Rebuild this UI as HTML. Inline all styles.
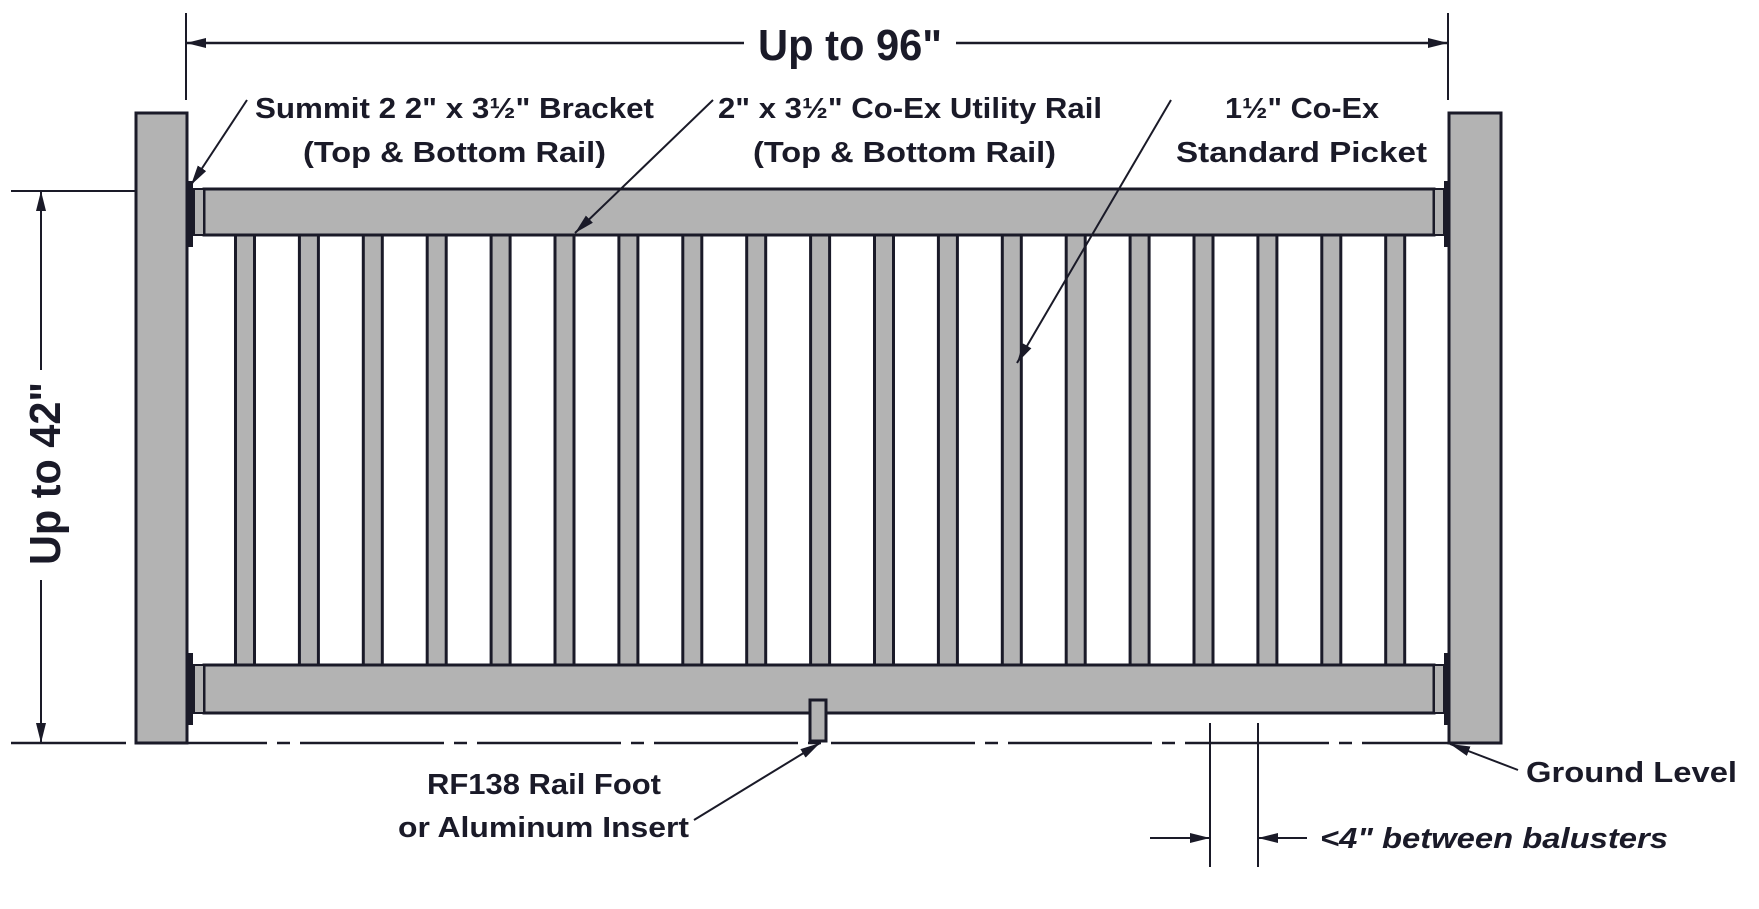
<!DOCTYPE html>
<html><head><meta charset="utf-8"><style>
html,body{margin:0;padding:0;background:#fff;}
svg{display:block;}
text{font-family:"Liberation Sans",sans-serif;font-weight:bold;fill:#1a1a28;}
</style></head><body>
<svg width="1759" height="909" viewBox="0 0 1759 909" xmlns="http://www.w3.org/2000/svg">
<defs>
<marker id="ah" markerWidth="20" markerHeight="10" refX="20" refY="5" orient="auto" markerUnits="userSpaceOnUse">
<path d="M0,0 L20,5 L0,10 z" fill="#1a1a28"/></marker>
</defs>
<g stroke="#1a1a28" fill="none">
<!-- top dimension -->
<line x1="186" y1="13" x2="186" y2="100" stroke-width="2"/>
<line x1="1448" y1="13" x2="1448" y2="100" stroke-width="2"/>
<line x1="744" y1="43" x2="186" y2="43" stroke-width="2.5" marker-end="url(#ah)"/>
<line x1="956" y1="43" x2="1448" y2="43" stroke-width="2.5" marker-end="url(#ah)"/>
<!-- left dimension -->
<line x1="11" y1="191" x2="177" y2="191" stroke-width="2"/>
<line x1="11" y1="743" x2="126" y2="743" stroke-width="2.5"/>
<line x1="41" y1="370" x2="41" y2="191" stroke-width="2" marker-end="url(#ah)"/>
<line x1="41" y1="580" x2="41" y2="743" stroke-width="2" marker-end="url(#ah)"/>
<!-- ground -->
<line x1="188" y1="743" x2="1448" y2="743" stroke-width="2.5" stroke-dasharray="144 10 13 10" stroke-dashoffset="65"/>
</g>
<!-- posts -->
<g fill="#b3b3b3" stroke="#1a1a28" stroke-width="3">
<rect x="136" y="113" width="51" height="630"/>
<rect x="1449" y="113" width="52" height="630"/>
<!-- pickets -->
<g id="pk">
<rect x="235.5" y="235" width="19" height="430"/><rect x="299.4" y="235" width="19" height="430"/><rect x="363.3" y="235" width="19" height="430"/><rect x="427.2" y="235" width="19" height="430"/><rect x="491.1" y="235" width="19" height="430"/><rect x="555" y="235" width="19" height="430"/><rect x="618.9" y="235" width="19" height="430"/><rect x="682.8" y="235" width="19" height="430"/><rect x="746.7" y="235" width="19" height="430"/><rect x="810.6" y="235" width="19" height="430"/><rect x="874.5" y="235" width="19" height="430"/><rect x="938.4" y="235" width="19" height="430"/><rect x="1002.3" y="235" width="19" height="430"/><rect x="1066.2" y="235" width="19" height="430"/><rect x="1130.1" y="235" width="19" height="430"/><rect x="1194" y="235" width="19" height="430"/><rect x="1257.9" y="235" width="19" height="430"/><rect x="1321.8" y="235" width="19" height="430"/><rect x="1385.7" y="235" width="19" height="430"/>
</g>
<!-- rails -->
<rect x="204" y="189" width="1230" height="46"/>
<rect x="204" y="665" width="1230" height="48"/>
<!-- brackets -->
<rect x="194" y="189" width="10" height="46" stroke-width="2"/>
<rect x="1434" y="189" width="10" height="46" stroke-width="2"/>
<rect x="194" y="665" width="10" height="48" stroke-width="2"/>
<rect x="1434" y="665" width="10" height="48" stroke-width="2"/>
<!-- rail foot -->
<rect x="810" y="700" width="16" height="41"/>
</g>
<g fill="#1a1a28">
<rect x="188" y="181" width="5" height="66"/>
<rect x="1444" y="181" width="5" height="66"/>
<rect x="188" y="653" width="5" height="72"/>
<rect x="1444" y="653" width="5" height="72"/>
</g>
<!-- leader arrows -->
<g stroke="#1a1a28" stroke-width="2" fill="none">
<line x1="247" y1="100" x2="191" y2="185" marker-end="url(#ah)"/>
<line x1="713" y1="100" x2="575" y2="233" marker-end="url(#ah)"/>
<line x1="1171" y1="100" x2="1017" y2="363" marker-end="url(#ah)"/>
<line x1="694" y1="820" x2="820" y2="743" marker-end="url(#ah)"/>
<line x1="1518" y1="770" x2="1450" y2="744" marker-end="url(#ah)"/>
<line x1="1210" y1="723" x2="1210" y2="867"/>
<line x1="1258" y1="723" x2="1258" y2="867"/>
<line x1="1150" y1="838" x2="1210" y2="838" marker-end="url(#ah)"/>
<line x1="1307" y1="838" x2="1258" y2="838" marker-end="url(#ah)"/>
</g>
<!-- text -->
<text x="758" y="60" font-size="44" textLength="184" lengthAdjust="spacingAndGlyphs">Up to 96"</text>
<text transform="translate(60,565) rotate(-90)" font-size="44" textLength="183" lengthAdjust="spacingAndGlyphs">Up to 42"</text>
<text x="255" y="118" font-size="29" textLength="399" lengthAdjust="spacingAndGlyphs">Summit 2 2" x 3½" Bracket</text>
<text x="303" y="162" font-size="29" textLength="303" lengthAdjust="spacingAndGlyphs">(Top &amp; Bottom Rail)</text>
<text x="718" y="118" font-size="29" textLength="384" lengthAdjust="spacingAndGlyphs">2" x 3½" Co-Ex Utility Rail</text>
<text x="753" y="162" font-size="29" textLength="303" lengthAdjust="spacingAndGlyphs">(Top &amp; Bottom Rail)</text>
<text x="1225" y="118" font-size="29" textLength="154" lengthAdjust="spacingAndGlyphs">1½" Co-Ex</text>
<text x="1176" y="162" font-size="29" textLength="251" lengthAdjust="spacingAndGlyphs">Standard Picket</text>
<text x="427" y="794" font-size="29" textLength="234" lengthAdjust="spacingAndGlyphs">RF138 Rail Foot</text>
<text x="398" y="837" font-size="29" textLength="291" lengthAdjust="spacingAndGlyphs">or Aluminum Insert</text>
<text x="1526" y="782" font-size="29" textLength="211" lengthAdjust="spacingAndGlyphs">Ground Level</text>
<text x="1320" y="848" font-size="29" font-style="italic" textLength="348" lengthAdjust="spacingAndGlyphs">&lt;4" between balusters</text>
</svg>
</body></html>
